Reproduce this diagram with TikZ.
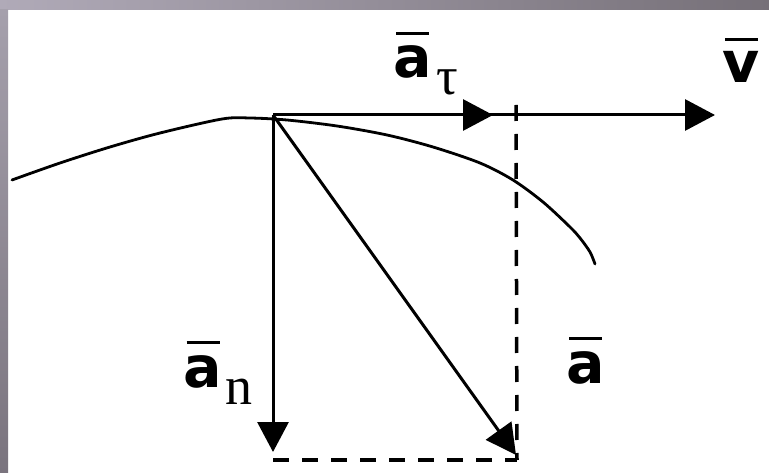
\documentclass[tikz,border=0pt]{standalone}
\usepackage{fontspec}
\usetikzlibrary{arrows.meta}
\newfontfamily\labfont{DejaVu Sans}
\newfontfamily\subfont{Liberation Serif}
\newcommand{\ovl}[1]{\setbox0\hbox{#1}\vbox{\offinterlineskip\hbox to\wd0{\hss\vrule height 3pt depth 0pt width 33pt\hss}\kern 11pt\box0}}
\definecolor{frameA}{RGB}{176,170,184}
\definecolor{frameB}{RGB}{118,112,120}
\definecolor{frameC}{RGB}{165,160,172}
\definecolor{frameD}{RGB}{122,116,126}
\begin{document}
\begin{tikzpicture}[x=1pt,y=-1pt,
  vec/.style={line width=3pt,-{Triangle[length=30pt,width=31pt]}},
  guide/.style={line width=3.5pt,dash pattern=on 16pt off 13pt},
  curve/.style={line width=2.8pt,line cap=round},
  lbl/.style={inner sep=0pt,anchor=base,font=\labfont\bfseries\fontsize{57}{60}\selectfont},
  subl/.style={inner sep=0pt,anchor=base,font=\subfont\fontsize{54}{58}\selectfont}]
\useasboundingbox (0,0) rectangle (769,473);
\fill[white] (0,0) rectangle (769,473);
\shade[left color=frameA,right color=frameB] (0,0) rectangle (769,10);
\shade[top color=frameC,bottom color=frameD] (0,10) rectangle (8,473);
% trajectory
\draw[curve] plot[smooth,tension=0.5] coordinates {(12,180) (60,163) (110,147) (160,133) (222,119) (250,118) (287,120) (337,126) (387,135) (433,147) (480,163) (513,180) (543,202) (570,227) (580,238) (590,252) (595,264)};
% points
\coordinate (O) at (273,115);
\coordinate (Tt) at (493,115);
\coordinate (Tv) at (715,115);
\coordinate (Tn) at (273,452);
\coordinate (Ta) at (516,455);
\coordinate (Top) at (516,105);
\coordinate (C) at (517,460);
\coordinate (D) at (273,460);
% dashed construction
\draw[guide] (Top) -- (C);
\draw[guide] (D) -- (C);
% vectors
\draw[vec] (O) -- (Tv);
\draw[vec] (O) -- (Tt);
\draw[vec] (O) -- (Tn);
\draw[vec] (O) -- (Ta);
% labels
\node[lbl] (lat) at (412.5,78) {\ovl{a}};
\node[subl] (lats) at (447.5,95) {τ};
\node[lbl] (lv) at (741.5,83) {\ovl{v}};
\node[lbl] (la) at (585.5,383) {\ovl{a}};
\node[lbl] (lan) at (203,387) {\ovl{a}};
\node[subl] (lans) at (239,404) {n};
\end{tikzpicture}
\end{document}
